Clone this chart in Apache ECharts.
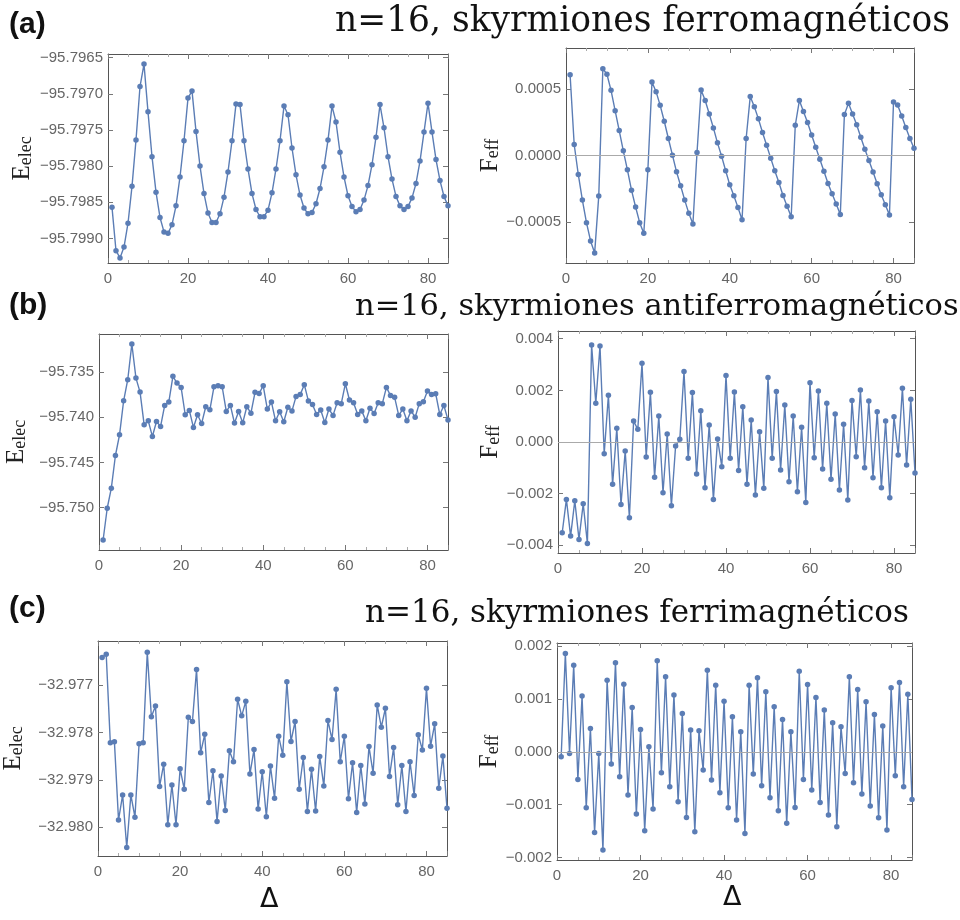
<!DOCTYPE html>
<html>
<head>
<meta charset="utf-8">
<script src="https://cdn.jsdelivr.net/npm/echarts@6/dist/echarts.min.js"></script>
<style>
  html, body { margin: 0; padding: 0; background: #ffffff; }
  #chart { width: 960px; height: 920px; }
</style>
</head>
<body>
<div id="chart"></div>
<script>
// Δ runs 1..85 in every panel
const deltaStart = 1;

// (a) ferromagnetic skyrmions
const aEelec = [
  -95.79857, -95.79917, -95.79927, -95.79912, -95.79879, -95.79828, -95.79764, -95.79690, -95.79659, -95.79725,
  -95.79787, -95.79836, -95.79871, -95.79891, -95.79893, -95.79881, -95.79855, -95.79815, -95.79765, -95.79706,
  -95.79696, -95.79752, -95.79800, -95.79838, -95.79865, -95.79878, -95.79878, -95.79866, -95.79843, -95.79808,
  -95.79765, -95.79714, -95.79715, -95.79765, -95.79804, -95.79838, -95.79860, -95.79870, -95.79870, -95.79861,
  -95.79837, -95.79804, -95.79765, -95.79717, -95.79729, -95.79775, -95.79812, -95.79840, -95.79858, -95.79866,
  -95.79864, -95.79852, -95.79831, -95.79801, -95.79764, -95.79717, -95.79739, -95.79781, -95.79815, -95.79841,
  -95.79856, -95.79863, -95.79860, -95.79847, -95.79827, -95.79798, -95.79760, -95.79715, -95.79747, -95.79787,
  -95.79818, -95.79842, -95.79855, -95.79860, -95.79856, -95.79844, -95.79824, -95.79793, -95.79753, -95.79713,
  -95.79753, -95.79791, -95.79820, -95.79842, -95.79855
];
const aFeff = [
  0.000609, 0.0000827, -0.000143, -0.000336, -0.000506, -0.000644, -0.000734, -0.000306, 0.000654, 0.000612,
  0.000491, 0.000338, 0.000188, 0.0000351, -0.000108, -0.000261, -0.000388, -0.000506, -0.000586, -0.000108,
  0.000554, 0.000481, 0.000378, 0.000258, 0.000128, 0.0000025, -0.000123, -0.000228, -0.000336, -0.000436,
  -0.000516, 0.0000226, 0.000494, 0.000414, 0.000313, 0.000208, 0.0000952, -0.000005, -0.000115, -0.000221,
  -0.000303, -0.000391, -0.000484, 0.000128, 0.000444, 0.000368, 0.000276, 0.000173, 0.0000777, -0.00002,
  -0.000115, -0.000203, -0.000301, -0.000383, -0.000461, 0.000228, 0.000414, 0.000331, 0.000248, 0.000155,
  0.0000627, -0.0000276, -0.000118, -0.000211, -0.000288, -0.000366, -0.000444, 0.000308, 0.000393, 0.000313,
  0.000231, 0.000138, 0.0000476, -0.0000376, -0.000125, -0.000213, -0.000296, -0.000371, -0.000449, 0.000404,
  0.000381, 0.000298, 0.000211, 0.000128, 0.0000551
];

// (b) antiferromagnetic skyrmions
const bEelec = [
  -95.75359, -95.75008, -95.74786, -95.74424, -95.74195, -95.73818, -95.73585, -95.73190, -95.73567, -95.73722,
  -95.74084, -95.74040, -95.74213, -95.74047, -95.74102, -95.73870, -95.73833, -95.73548, -95.73622, -95.73670,
  -95.73973, -95.73925, -95.74113, -95.73973, -95.74069, -95.73884, -95.73918, -95.73663, -95.73652, -95.73663,
  -95.73936, -95.73870, -95.74065, -95.73936, -95.74062, -95.73884, -95.73955, -95.73725, -95.73737, -95.73652,
  -95.73910, -95.73833, -95.74040, -95.73940, -95.74050, -95.73890, -95.73930, -95.73770, -95.73750, -95.73640,
  -95.73820, -95.73860, -95.73970, -95.73920, -95.74060, -95.73910, -95.73980, -95.73840, -95.73850, -95.73630,
  -95.73810, -95.73840, -95.73970, -95.73930, -95.74040, -95.73900, -95.73960, -95.73840, -95.73850, -95.73670,
  -95.73760, -95.73780, -95.73980, -95.73910, -95.74040, -95.73930, -95.74000, -95.73850, -95.73830, -95.73710,
  -95.73750, -95.73740, -95.73970, -95.73870, -95.74030
];
const bFeff = [
  -0.003515, -0.002223, -0.003645, -0.002275, -0.003774, -0.002391, -0.003929, 0.003761, 0.001499, 0.003722,
  -0.000452, 0.001809, -0.001641, 0.00053, -0.002417, -0.000349, -0.002934, 0.000814, 0.000491, 0.00305,
  -0.000582, 0.001926, -0.00137, 0.001008, -0.001964, 0.00031, -0.002468, -0.000155, 0.000103, 0.002727,
  -0.000633, 0.001913, -0.001241, 0.001215, -0.001771, 0.000659, -0.002223, 0.000116, -0.000956, 0.002572,
  -0.000633, 0.001939, -0.001105, 0.00137, -0.001641, 0.000853, -0.002055, 0.0004, -0.001796, 0.002494,
  -0.000633, 0.001952, -0.001086, 0.001435, -0.001538, 0.001008, -0.001926, 0.000569, -0.002339, 0.0023,
  -0.000607, 0.001977, -0.001047, 0.001499, -0.001447, 0.001086, -0.001861, 0.000685, -0.002249, 0.001603,
  -0.000569, 0.002016, -0.000995, 0.00159, -0.001383, 0.001176, -0.001771, 0.000814, -0.002158, 0.000982,
  -0.000504, 0.002081, -0.000892, 0.001654, -0.0012
];

// (c) ferrimagnetic skyrmions
const cEelec = [
  -32.97642, -32.97635, -32.97822, -32.97820, -32.97985, -32.97932, -32.98043, -32.97932, -32.97979, -32.97824,
  -32.97822, -32.97631, -32.97767, -32.97744, -32.97914, -32.97867, -32.97995, -32.97911, -32.97995, -32.97877,
  -32.97920, -32.97768, -32.97777, -32.97667, -32.97843, -32.97804, -32.97948, -32.97881, -32.97988, -32.97892,
  -32.97965, -32.97839, -32.97862, -32.97730, -32.97765, -32.97734, -32.97888, -32.97836, -32.97962, -32.97883,
  -32.97978, -32.97871, -32.97939, -32.97808, -32.97848, -32.97693, -32.97819, -32.97777, -32.97920, -32.97853,
  -32.97967, -32.97878, -32.97966, -32.97851, -32.97913, -32.97775, -32.97815, -32.97709, -32.97862, -32.97808,
  -32.97940, -32.97864, -32.97969, -32.97870, -32.97951, -32.97830, -32.97886, -32.97742, -32.97789, -32.97749,
  -32.97893, -32.97832, -32.97953, -32.97870, -32.97967, -32.97862, -32.97933, -32.97805, -32.97837, -32.97707,
  -32.97829, -32.97782, -32.97918, -32.97850, -32.97960
];
const cFeff = [
  -0.0000946, 0.001861, -0.0000315, 0.00164, -0.000524, 0.001054, -0.00106, 0.000442, -0.001527, -0.0000315,
  -0.001861, 0.001356, -0.000233, 0.001685, -0.000473, 0.001281, -0.00082, 0.000839, -0.00118, 0.000423,
  -0.001495, 0.0000946, -0.001085, 0.001722, -0.000397, 0.00142, -0.000662, 0.001073, -0.000946, 0.000726,
  -0.001243, 0.00041, -0.001514, 0.000397, -0.000347, 0.001546, -0.000536, 0.001262, -0.000776, 0.000959,
  -0.00106, 0.000662, -0.001293, 0.000379, -0.001546, 0.001262, -0.000423, 0.0014, -0.000644, 0.001136,
  -0.000871, 0.000852, -0.001117, 0.000612, -0.001356, 0.000379, -0.001054, 0.001527, -0.000524, 0.001274,
  -0.000726, 0.001028, -0.000959, 0.000789, -0.001199, 0.000549, -0.00142, 0.000473, -0.00041, 0.00142,
  -0.000587, 0.00118, -0.000801, 0.000946, -0.001028, 0.000707, -0.001249, 0.000486, -0.001483, 0.001211,
  -0.000454, 0.001312, -0.000662, 0.001091, -0.000902
];

// tick labels of each y axis
const aEelecTicks = [-95.7990, -95.7985, -95.7980, -95.7975, -95.7970, -95.7965];
const aFeffTicks = [-0.0005, 0, 0.0005];
const bEelecTicks = [-95.750, -95.745, -95.740, -95.735];
const bFeffTicks = [-0.004, -0.002, 0, 0.002, 0.004];
const cEelecTicks = [-32.980, -32.979, -32.978, -32.977];
const cFeffTicks = [-0.002, -0.001, 0, 0.001, 0.002];
const deltaTicks = [0, 20, 40, 60, 80];

const titles = [
  'n=16, skyrmiones ferromagnéticos',
  'n=16, skyrmiones antiferromagnéticos',
  'n=16, skyrmiones ferrimagnéticos'
];

// panel layout: grid box, y range, ticks, decimals, axis name, name gap
const panels = [
  { grid: { left: 108, top: 54, width: 340, height: 209 }, yMin: -95.79934, yMax: -95.79645, ticks: aEelecTicks, dec: 4, values: aEelec, name: 'E', sub: 'elec', gap: 73, zero: false },
  { grid: { left: 566, top: 48, width: 348, height: 215 }, yMin: -0.00081, yMax: 0.00081, ticks: aFeffTicks, dec: 4, values: aFeff, name: 'F', sub: 'eff', gap: 53, zero: true },
  { grid: { left: 99, top: 334, width: 349, height: 216 }, yMin: -95.7547, yMax: -95.73079, ticks: bEelecTicks, dec: 3, values: bEelec, name: 'E', sub: 'elec', gap: 70, zero: false },
  { grid: { left: 558, top: 331, width: 357, height: 222 }, yMin: -0.0043, yMax: 0.0043, ticks: bFeffTicks, dec: 3, values: bFeff, name: 'F', sub: 'eff', gap: 43, zero: true },
  { grid: { left: 97, top: 641, width: 350, height: 215 }, yMin: -32.98061, yMax: -32.97607, ticks: cEelecTicks, dec: 3, values: cEelec, name: 'E', sub: 'elec', gap: 72, zero: false },
  { grid: { left: 557, top: 643, width: 355, height: 217 }, yMin: -0.00205, yMax: 0.00206, ticks: cFeffTicks, dec: 3, values: cFeff, name: 'F', sub: 'eff', gap: 43, zero: true }
];

const frameColor = '#555555';
const tickColor = '#777777';
const labelColor = '#666666';
const lineColor = '#5b7db5';

function fmt(v, dec) {
  const s = (Math.abs(v) < 1e-12 ? 0 : v).toFixed(dec);
  return s.replace('-', '\u2212');
}

const grid = [], xAxis = [], yAxis = [], series = [];

panels.forEach((p, i) => {
  grid.push(Object.assign({ show: false }, p.grid));
  const xCommon = {
    type: 'value', gridIndex: i, min: 0, max: 85, interval: 20,
    splitLine: { show: false },
    axisLine: { show: true, onZero: false, lineStyle: { color: frameColor, width: 1 } },
    axisTick: { show: true, inside: true, length: 5, lineStyle: { color: tickColor } },
    minorTick: { show: true, splitNumber: 4, length: 3, lineStyle: { color: '#aaaaaa' } }
  };
  // bottom axis with labels
  xAxis.push(Object.assign({}, xCommon, {
    position: 'bottom',
    axisLabel: {
      show: true, color: labelColor, fontSize: 15, fontFamily: 'Liberation Sans', margin: 8,
      customValues: deltaTicks
    }
  }));
  // top frame edge
  xAxis.push(Object.assign({}, xCommon, { position: 'top', axisLabel: { show: false } }));

  const yCommon = {
    type: 'value', gridIndex: i, min: p.yMin, max: p.yMax,
    splitLine: { show: false },
    axisLine: { show: true, onZero: false, lineStyle: { color: frameColor, width: 1 } },
    axisTick: { show: true, inside: true, length: 5, customValues: p.ticks, lineStyle: { color: tickColor } }
  };
  yAxis.push(Object.assign({}, yCommon, {
    position: 'left',
    name: '{m|' + p.name + '}{s|' + p.sub + '}',
    nameLocation: 'middle',
    nameGap: p.gap,
    nameTextStyle: {
      rich: {
        m: { fontFamily: 'Liberation Serif', fontSize: 25, color: '#222222' },
        s: { fontFamily: 'Liberation Serif', fontSize: 18, color: '#222222', verticalAlign: 'bottom' }
      }
    },
    axisLabel: {
      show: true, color: labelColor, fontSize: 15, fontFamily: 'Liberation Sans', margin: 5,
      customValues: p.ticks,
      formatter: (v) => fmt(v, p.dec)
    }
  }));
  yAxis.push(Object.assign({}, yCommon, { position: 'right', axisLabel: { show: false }, name: '' }));

  const s = {
    type: 'line',
    xAxisIndex: 2 * i,
    yAxisIndex: 2 * i,
    data: p.values.map((v, k) => [k + deltaStart, v]),
    symbol: 'circle',
    symbolSize: 5.5,
    showSymbol: true,
    clip: true,
    lineStyle: { color: lineColor, width: 1.4 },
    itemStyle: { color: lineColor },
    emphasis: { disabled: true }
  };
  if (p.zero) {
    s.markLine = {
      silent: true, symbol: 'none', animation: false,
      label: { show: false },
      lineStyle: { color: '#aaaaaa', width: 1, type: 'solid' },
      data: [{ yAxis: 0 }]
    };
  }
  series.push(s);
});

const panelLabel = { fontFamily: 'Liberation Sans', fontSize: 30, fontWeight: 'bold', color: '#111111' };
const headStyle = (size) => ({ fontFamily: 'DejaVu Serif', fontSize: size, fontWeight: 'normal', color: '#111111' });
const deltaStyle = { fontFamily: 'DejaVu Sans', fontSize: 27, fontWeight: 'normal', color: '#111111' };

const title = [
  { text: '(a)', left: 4, top: 5, textStyle: panelLabel },
  { text: titles[0], left: 330, top: 0, textStyle: headStyle(34.5) },
  { text: '(b)', left: 4, top: 286, textStyle: panelLabel },
  { text: titles[1], left: 350, top: 287, textStyle: headStyle(30.5) },
  { text: '(c)', left: 4, top: 589, textStyle: panelLabel },
  { text: titles[2], left: 360, top: 593, textStyle: headStyle(31) },
  { text: 'Δ', left: 255, top: 881, textStyle: deltaStyle },
  { text: 'Δ', left: 718, top: 879, textStyle: deltaStyle }
];

const chart = echarts.init(document.getElementById('chart'), null, { renderer: 'canvas' });
chart.setOption({
  backgroundColor: '#ffffff',
  animation: false,
  title: title,
  grid: grid,
  xAxis: xAxis,
  yAxis: yAxis,
  series: series
});
</script>
</body>
</html>
